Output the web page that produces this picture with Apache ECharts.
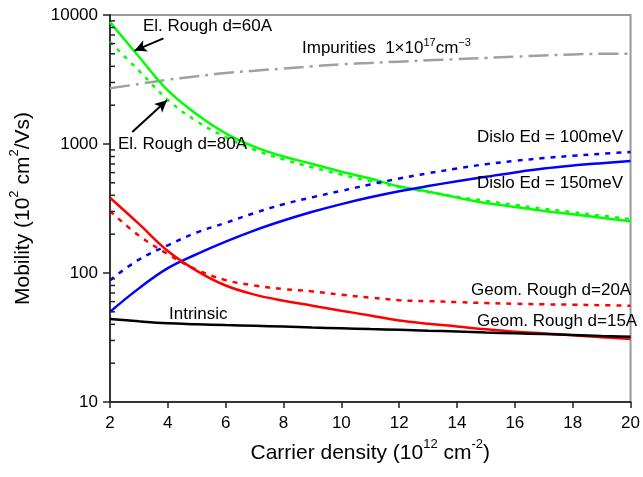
<!DOCTYPE html>
<html>
<head>
<meta charset="utf-8">
<script src="https://cdn.jsdelivr.net/npm/echarts@6/dist/echarts.min.js"></script>
<style>
html, body { margin: 0; padding: 0; background: #fff; }
#main { width: 643px; height: 477px; }
</style>
</head>
<body>
<div id="main"></div>
<script>
// carrier density, 10^12 cm^-2
DENSITY = [2, 3, 4, 5, 6, 7, 8, 9, 10, 11, 12, 13, 14, 15, 16, 17, 18, 19, 20];

// mobility, 10^2 cm^2/Vs
EL_ROUGH_60 = [8800, 4750, 2600, 1700, 1210, 950, 800, 700, 610, 540, 468, 427, 384, 349, 325, 303, 285, 268, 252];
EL_ROUGH_80 = [6200, 3700, 2200, 1500, 1130, 900, 760, 660, 580, 515, 465, 425, 390, 362, 337, 315, 296, 278, 262];
IMPURITIES = [2700, 2920, 3150, 3350, 3550, 3700, 3850, 4000, 4150, 4250, 4350, 4450, 4550, 4650, 4750, 4850, 4950, 5000, 5000];
DISLO_150 = [50, 76, 109, 140, 175, 214, 255, 298, 342, 386, 430, 472, 514, 557, 602, 645, 680, 710, 738];
DISLO_100 = [88, 127, 164, 206, 245, 292, 341, 387, 433, 486, 540, 593, 645, 698, 740, 778, 810, 840, 866];
GEOM_15 = [383, 240, 148, 104, 80, 68, 61, 55.8, 51, 46.8, 42.8, 40.4, 38.5, 36.6, 35.1, 34, 32.9, 31.8, 30.8];
GEOM_20 = [302, 195, 140, 106, 88, 80, 75, 72, 67.8, 64.5, 61.5, 60.5, 59.5, 58.5, 57.7, 57.2, 56.8, 56.3, 55.8];
INTRINSIC = [44, 42.2, 40.8, 40.1, 39.5, 39, 38.4, 37.8, 37.3, 36.8, 36.3, 35.7, 35.2, 34.6, 34.1, 33.6, 33.1, 32.5, 32];

Y_TICKS = [10, 100, 1000, 10000];

var FONT = "'Liberation Sans', Arial, sans-serif";

function pairs(ys) {
	return DENSITY.map(function(x, i) { return [x, ys[i]]; });
}

function curve(name, ys, color, type) {
	return {
		name: name,
		type: 'line',
		data: pairs(ys),
		smooth: 0.4,
		symbol: 'none',
		lineStyle: { color: color, width: 2.5, type: type || 'solid' },
		z: 3
	};
}

function label(text, x, y, rich) {
	return {
		type: 'text',
		x: x,
		y: y,
		z: 10,
		style: {
			text: text,
			fill: '#000',
			font: '17px ' + FONT,
			verticalAlign: 'middle',
			rich: rich
		}
	};
}

var supRich = {
	a: { fontSize: 17, fontFamily: FONT, lineHeight: 20, verticalAlign: 'bottom' },
	s: { fontSize: 11, fontFamily: FONT, lineHeight: 20, verticalAlign: 'top' }
};

var arrowSeries = curve('El. Rough d=60A', EL_ROUGH_60, '#00ff00');
arrowSeries.markLine = {
	silent: true,
	symbol: ['none', 'arrow'],
	symbolSize: [9, 12],
	label: { show: false },
	lineStyle: { color: '#000', width: 2, type: 'solid' },
	data: [
		[{ coord: [3.85, 6590] }, { coord: [2.85, 5300] }],
		[{ coord: [2.77, 1240] }, { coord: [3.97, 2180] }]
	]
};

var titleRich = {
	n: { fontSize: 21, fontFamily: FONT, color: '#000', lineHeight: 26, verticalAlign: 'bottom' },
	s: { fontSize: 13, fontFamily: FONT, color: '#000', lineHeight: 26, verticalAlign: 'top' }
};

var myChart = echarts.init(document.getElementById('main'));

var labels = [
	label('El. Rough d=60A', 143, 26),
	label('El. Rough d=80A', 118, 144),
	label('{a|Impurities  1×10}{s|17}{a|cm}{s|−3}', 302, 47, supRich),
	label('Dislo Ed = 100meV', 477, 137),
	label('Dislo Ed = 150meV', 477, 183),
	label('Geom. Rough d=20A', 471, 290),
	label('Geom. Rough d=15A', 477, 321),
	label('Intrinsic', 169, 314)
];

var option = {
	animation: false,
	backgroundColor: '#fff',
	grid: {
		left: 107, right: 10, top: 15, bottom: 75,
		show: true, borderColor: '#999', borderWidth: 2
	},
	xAxis: {
		type: 'value',
		min: 2, max: 20, interval: 2,
		name: '{n|Carrier density (10}{s|12}{n| cm}{s|-2}{n|)}',
		nameLocation: 'middle',
		nameGap: 36,
		nameTextStyle: { rich: titleRich },
		axisLine: { lineStyle: { color: '#333', width: 2 } },
		axisTick: { show: true, inside: false, length: 6, lineStyle: { color: '#222', width: 1.5 } },
		axisLabel: { fontSize: 17, fontFamily: FONT, color: '#000', margin: 13 },
		splitLine: { show: false }
	},
	yAxis: {
		type: 'log',
		logBase: 10,
		min: 10, max: 10000,
		name: '{n|Mobility (10}{s|2}{n| cm}{s|2}{n|/Vs)}',
		nameLocation: 'middle',
		nameRotate: 90,
		nameGap: 76,
		nameTextStyle: { rich: titleRich },
		axisLine: { show: true, lineStyle: { color: '#333', width: 2 } },
		axisTick: { show: true, inside: false, length: 7, lineStyle: { color: '#222', width: 1.5 } },
		axisLabel: {
			fontSize: 17, fontFamily: FONT, color: '#000', margin: 12,
			formatter: function(v) { return String(Math.round(v)); }
		},
		splitLine: { show: false }
	},
	series: [
		curve('Impurities', IMPURITIES, '#a0a0a0', [20, 6, 3, 6]),
		curve('El. Rough d=80A', EL_ROUGH_80, '#00ff00', [4, 6]),
		arrowSeries,
		curve('Dislo Ed = 100meV', DISLO_100, '#0000ff', [5, 6]),
		curve('Dislo Ed = 150meV', DISLO_150, '#0000ff'),
		curve('Geom. Rough d=20A', GEOM_20, '#ff0000', [5, 6]),
		curve('Geom. Rough d=15A', GEOM_15, '#ff0000'),
		curve('Intrinsic', INTRINSIC, '#000000')
	],
	graphic: labels
};

myChart.setOption(option);

// minor ticks 2..9 in each decade, inside the left axis, placed through the axis scale
var ticks = [];
for (var d = Y_TICKS[0]; d < Y_TICKS[Y_TICKS.length - 1]; d *= 10) {
	for (var k = 2; k <= 9; k++) {
		var p = myChart.convertToPixel({ gridIndex: 0 }, [DENSITY[0], k * d]);
		ticks.push({
			type: 'line',
			z: 20,
			silent: true,
			shape: { x1: p[0], y1: p[1], x2: p[0] + 5, y2: p[1] },
			style: { stroke: '#222', lineWidth: 1.5 }
		});
	}
}
myChart.setOption({ graphic: labels.concat(ticks) });
</script>
</body>
</html>
